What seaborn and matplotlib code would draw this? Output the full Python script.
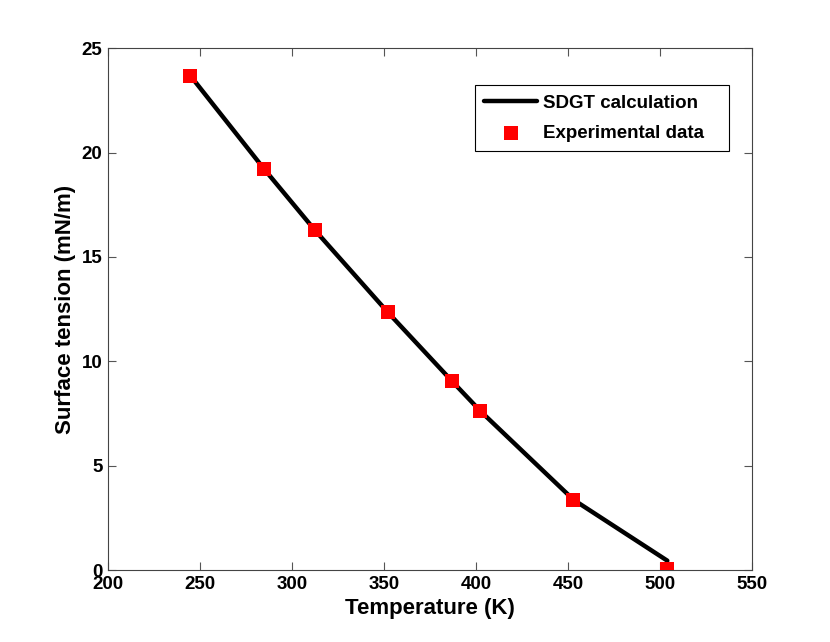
import matplotlib
matplotlib.use("Agg")
import matplotlib.pyplot as plt
import pandas as pd
import seaborn as sns

# SDGT calculation curve
calc_temp = [245.0, 285.0, 312.5, 352.0, 387.0, 402.5, 453.0, 504.0]
calc_tension = [23.66, 19.20, 16.28, 12.36, 9.05, 7.61, 3.37, 0.45]

# experimental points
exp_temp = [244.6, 284.8, 312.5, 352.2, 386.8, 402.3, 452.9, 504.0]
exp_tension = [23.66, 19.20, 16.28, 12.36, 9.05, 7.61, 3.37, 0.06]

x_ticks = [200, 250, 300, 350, 400, 450, 500, 550]
y_ticks = [0, 5, 10, 15, 20, 25]

sns.set_style("ticks")
plt.rcParams["font.family"] = ["Liberation Sans", "DejaVu Sans"]
plt.rcParams["font.weight"] = "bold"
plt.rcParams["text.color"] = "black"
plt.rcParams["axes.labelcolor"] = "black"
plt.rcParams["xtick.labelcolor"] = "black"
plt.rcParams["ytick.labelcolor"] = "black"

calc = pd.DataFrame({"T": calc_temp, "sigma": calc_tension})
exp = pd.DataFrame({"T": exp_temp, "sigma": exp_tension})

fig = plt.figure(figsize=(8.3, 6.42), dpi=100)
ax = fig.add_axes([0.13, 0.112, 0.776, 0.813])

sns.lineplot(data=calc, x="T", y="sigma", ax=ax, color="black", linewidth=3.2,
             label="SDGT calculation", sort=False)
sns.scatterplot(data=exp, x="T", y="sigma", ax=ax, color="red", marker="s", s=100,
                edgecolor="none", label="Experimental data", zorder=3)

ax.set_xlim(200, 550)
ax.set_ylim(0, 25)
ax.set_xticks(x_ticks)
ax.set_yticks(y_ticks)
ax.tick_params(direction="in", length=6, width=0.8, top=True, right=True,
               labelsize=13.5, color="#555555", pad=4)
for lab in ax.get_xticklabels() + ax.get_yticklabels():
    lab.set_fontweight("bold")
for sp in ax.spines.values():
    sp.set_visible(True)
    sp.set_linewidth(0.8)
    sp.set_color("#444444")

ax.set_xlabel("Temperature (K)", fontsize=16, fontweight="bold", labelpad=4)
ax.set_ylabel("Surface tension (mN/m)", fontsize=16, fontweight="bold", labelpad=4)

leg = ax.legend(loc="upper left", bbox_to_anchor=(0.570, 0.829, 0.394, 0.1),
                mode="expand", fontsize=13.5,
                frameon=True, fancybox=False, edgecolor="black", framealpha=1,
                markerscale=1.0, handlelength=2.8, handletextpad=0.3,
                borderpad=0.5, labelspacing=0.7, borderaxespad=0)
leg.get_frame().set_linewidth(0.8)
for t in leg.get_texts():
    t.set_fontweight("bold")

fig.savefig("out.png", dpi=100)
plt.close(fig)
